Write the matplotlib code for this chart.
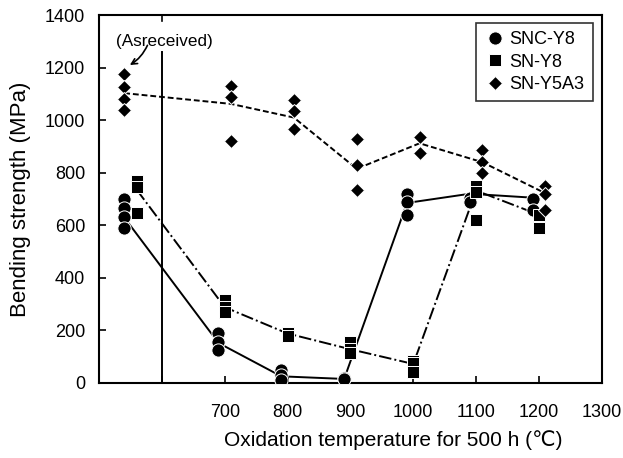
import matplotlib.pyplot as plt

plt.rcParams['font.family'] = ['Liberation Sans', 'DejaVu Sans']

# individual specimens (x slightly offset per material, as in the figure)
snc_x = [540, 540, 540, 540, 690, 690, 690, 790, 790, 790, 890, 890,
         990, 990, 990, 1090, 1090, 1190, 1190]
snc_y = [700, 665, 630, 590, 190, 155, 125, 50, 30, 12, 20, 15,
         720, 690, 640, 703, 690, 700, 660]

sn_x = [560, 560, 560, 700, 700, 700, 800, 800, 900, 900, 900,
        1000, 1000, 1000, 1100, 1100, 1100, 1200, 1200]
sn_y = [770, 745, 645, 315, 290, 270, 190, 180, 155, 130, 115,
        85, 75, 40, 750, 727, 620, 640, 590]

sy_x = [540, 540, 540, 540, 710, 710, 710, 810, 810, 810, 910, 910, 910,
        1010, 1010, 1110, 1110, 1110, 1210, 1210, 1210]
sy_y = [1175, 1125, 1080, 1040, 1130, 1090, 920, 1075, 1035, 965, 930, 830, 735,
        935, 875, 885, 840, 800, 750, 720, 660]

# mean lines
snc_lx = [540, 690, 790, 890, 990, 1090, 1190]
snc_ly = [630, 152, 25, 15, 685, 720, 705]
sn_lx = [560, 700, 800, 900, 1000, 1100, 1200]
sn_ly = [735, 288, 188, 128, 72, 732, 640]
sy_lx = [540, 710, 810, 910, 1010, 1110, 1210]
sy_ly = [1103, 1062, 1010, 815, 912, 840, 722]

xticks = [600, 700, 800, 900, 1000, 1100, 1200, 1300]
xlabels = ['', '700', '800', '900', '1000', '1100', '1200', '1300']

fig = plt.figure(figsize=(6.23, 4.58), dpi=100)
ax = fig.add_axes([0.159, 0.164, 0.807, 0.803])

ax.plot(snc_lx, snc_ly, '-', color='k', lw=1.4, zorder=2)
ax.plot(sn_lx, sn_ly, '-.', color='k', lw=1.4, zorder=2)
ax.plot(sy_lx, sy_ly, '--', color='k', lw=1.4, dashes=(3, 1.5), zorder=2)

ax.plot(snc_x, snc_y, 'o', color='k', ms=9.5, mec='white', mew=0.7,
        ls='none', label='SNC-Y8', zorder=3)
ax.plot(sn_x, sn_y, 's', color='k', ms=8.5, mec='white', mew=0.7,
        ls='none', label='SN-Y8', zorder=3)
ax.plot(sy_x, sy_y, 'D', color='k', ms=6.8, mec='white', mew=0.7,
        ls='none', label='SN-Y5A3', zorder=3)

# separator between as-received and oxidised specimens
ax.plot([600, 600], [0, 1260], color='k', lw=1.4)
ax.axvline(600, ymin=0.985, ymax=1, color='k', lw=1.2)

ax.text(527, 1300, '(Asreceived)', fontsize=12.3, ha='left', va='center')
ax.annotate('', xy=(549, 1210), xytext=(577, 1285),
            arrowprops=dict(arrowstyle='->', color='k', lw=1.2,
                            connectionstyle='arc3,rad=-0.15',
                            shrinkA=0, shrinkB=0))

ax.set_xlim(500, 1300)
ax.set_ylim(0, 1400)
ax.set_xticks(xticks)
ax.set_xticklabels(xlabels)
ax.set_yticks(range(0, 1401, 200))
ax.tick_params(direction='in', labelsize=13, length=5, width=1.2)
ax.tick_params(axis='x', pad=15)
ax.tick_params(axis='y', pad=10)
for s in ax.spines.values():
    s.set_linewidth(1.5)

ax.set_xlabel('Oxidation temperature for 500 h (\u2103)', fontsize=15)
ax.xaxis.set_label_coords(0.586, -0.155)
ax.xaxis.label.set_va('center')
ax.set_ylabel('Bending strength (MPa)', fontsize=16)
ax.yaxis.set_label_coords(-0.135, 0.5)

leg = ax.legend(loc='upper right', bbox_to_anchor=(0.982, 0.978), fontsize=13,
                frameon=True, fancybox=False, edgecolor='k', borderaxespad=0,
                handletextpad=0.2, handlelength=1.2, borderpad=0.45,
                labelspacing=0.3)
leg.get_frame().set_linewidth(1.2)

fig.savefig('out.png', dpi=100)
